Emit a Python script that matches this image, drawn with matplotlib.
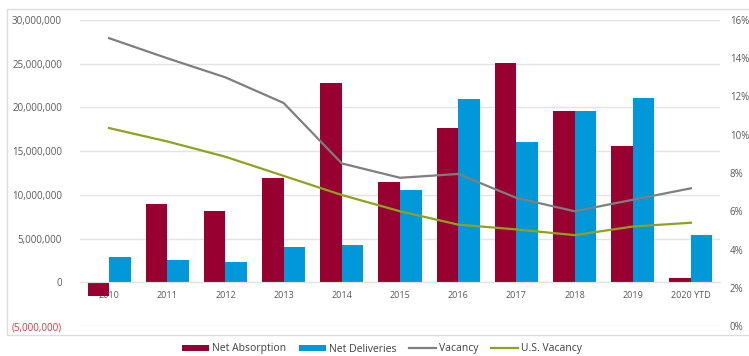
import numpy as np
import matplotlib.pyplot as plt
from matplotlib.patches import Rectangle
from matplotlib.ticker import FuncFormatter, MultipleLocator

plt.rcParams['font.family'] = ['Open Sans', 'DejaVu Sans']

years = ['2010', '2011', '2012', '2013', '2014', '2015', '2016', '2017', '2018', '2019', '2020 YTD']
net_absorption = [-1.6e6, 9.0e6, 8.1e6, 11.9e6, 22.8e6, 11.5e6, 17.7e6, 25.1e6, 19.6e6, 15.6e6, 0.5e6]
net_deliveries = [2.9e6, 2.5e6, 2.3e6, 4.0e6, 4.3e6, 10.5e6, 21.0e6, 16.0e6, 19.6e6, 21.1e6, 5.4e6]
vacancy = [15.05, 14.0, 13.0, 11.66, 8.5, 7.75, 7.95, 6.7, 6.0, 6.6, 7.2]
us_vacancy = [10.35, 9.65, 8.85, 7.85, 6.85, 6.0, 5.3, 5.05, 4.75, 5.2, 5.4]

red = '#970031'
blue = '#0098D8'
grey = '#7f7f7f'
olive = '#8FA21F'
txt = '#595959'

x = np.arange(len(years))
w = 0.37

fig = plt.figure(figsize=(7.49, 3.56), dpi=100)
ax = fig.add_axes([80/749, 1-326/356, 640/749, 306/356])
ax2 = ax.twinx()

ax.bar(x - w/2, net_absorption, w, color=red, zorder=2, label='Net Absorption')
ax.bar(x + w/2, net_deliveries, w, color=blue, zorder=2, label='Net Deliveries')
ax2.plot(x, vacancy, color=grey, lw=1.6, label='Vacancy')
ax2.plot(x, us_vacancy, color=olive, lw=1.6, label='U.S. Vacancy')

ax.set_xlim(-0.5, len(years) - 0.5)
ax.set_ylim(-5e6, 30e6)
ax.yaxis.set_major_locator(MultipleLocator(5e6))
ax.yaxis.set_major_formatter(FuncFormatter(
    lambda v, p: f'({abs(v):,.0f})' if v < 0 else f'{v:,.0f}'))
ax.grid(axis='y', color='#e3e3e3', lw=1, zorder=0)
ax.set_axisbelow(True)

ax2.set_ylim(0, 16)
ax2.yaxis.set_major_locator(MultipleLocator(2))
ax2.yaxis.set_major_formatter(FuncFormatter(lambda v, p: f'{v:.0f}%'))

for a in (ax, ax2):
    for s in a.spines.values():
        s.set_visible(False)
    a.tick_params(length=0, colors=txt, labelsize=7)
ax.tick_params(axis='y', pad=13)
ax2.tick_params(axis='y', pad=7)

ax.spines['bottom'].set_visible(True)
ax.spines['bottom'].set_position(('data', 0))
ax.spines['bottom'].set_color('#e3e3e3')
ax.set_xticks(x)
ax.set_xticklabels(years, fontsize=6.5)
ax.tick_params(axis='x', pad=6)

fig.canvas.draw()
for lbl in ax.get_yticklabels():
    if lbl.get_text().startswith('('):
        lbl.set_color('#e0343c')

fig.patches.append(Rectangle((7/749, 1-335/356), 800/749, 326/356,
                             transform=fig.transFigure, fill=False,
                             edgecolor='#dcdcdc', lw=1, zorder=0))

h1, l1 = ax.get_legend_handles_labels()
h2, l2 = ax2.get_legend_handles_labels()
fig.legend(h1 + h2, l1 + l2, loc='center', bbox_to_anchor=(382/749, 1-349/356),
           ncol=4, frameon=False, fontsize=7.5, handlelength=2.6, handleheight=0.6,
           columnspacing=1.2, handletextpad=0.3, labelcolor='#404040')

fig.savefig('out.png', dpi=100)
